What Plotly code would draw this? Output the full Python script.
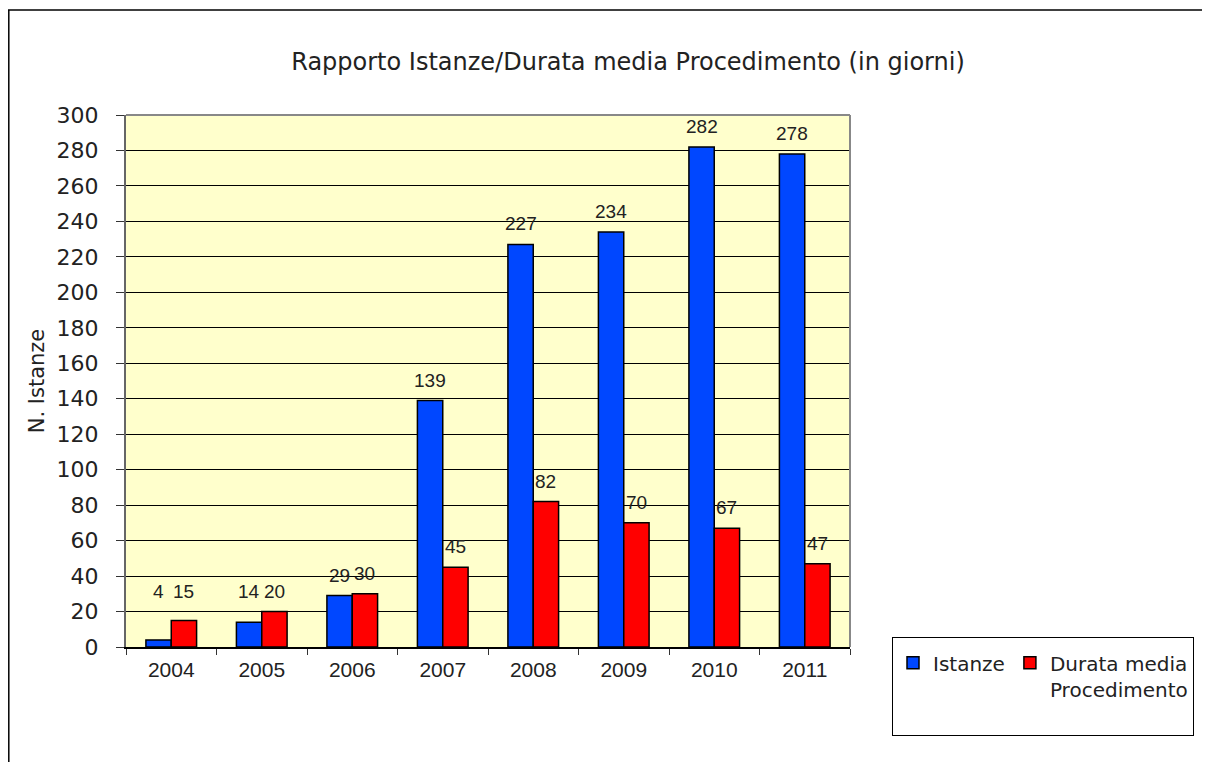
import plotly.graph_objects as go

# data
anni = ["2004", "2005", "2006", "2007", "2008", "2009", "2010", "2011"]
istanze = [4, 14, 29, 139, 227, 234, 282, 278]
durata_media = [15, 20, 30, 45, 82, 70, 67, 47]

TITLE_FONT = "DejaVu Sans"
NUM_FONT = "Liberation Sans, Arial"

# the page body adds an 8px margin, so work in figure pixels
OFF = 8
W, H = 1210 - OFF, 762 - OFF
L, R, T, B = 126 - OFF, 850 - OFF, 115 - OFF, 647 - OFF

fig = go.Figure()

fig.add_trace(go.Bar(
    x=anni, y=istanze, name="Istanze",
    marker=dict(color="#0047FF", line=dict(color="black", width=1.5)),
))
fig.add_trace(go.Bar(
    x=anni, y=durata_media, name="Durata media<br>Procedimento<br> ",
    marker=dict(color="#FF0000", line=dict(color="black", width=1.5)),
))

# value labels above bars (small values pushed up a bit like Excel does)
for offset, values in ((-0.14, istanze), (0.14, durata_media)):
    for i, v in enumerate(values):
        fig.add_annotation(
            x=i + offset, y=max(v, 20), text=str(v),
            showarrow=False, yanchor="bottom", yshift=8,
            font=dict(family=NUM_FONT, size=19, color="#222"),
        )

# outer frame of the chart object (only top and left edges visible)
pw, ph = R - L, B - T
fig.add_shape(type="line", xref="paper", yref="paper",
              x0=(0 - L) / pw, x1=(W + 5 - L) / pw,
              y0=(B - 2) / ph, y1=(B - 2) / ph,
              line=dict(color="black", width=1.5))
fig.add_shape(type="line", xref="paper", yref="paper",
              x0=(0.8 - L) / pw, x1=(0.8 - L) / pw,
              y0=(B - 2) / ph, y1=(B - H - 5) / ph,
              line=dict(color="black", width=1.5))

fig.update_layout(
    width=W, height=H,
    margin=dict(l=L, r=W - R, t=T, b=H - B, pad=0),
    paper_bgcolor="white",
    plot_bgcolor="#FFFFCC",
    barmode="group",
    bargap=0.44,
    bargroupgap=0,
    showlegend=True,
    title=dict(
        text="Rapporto Istanze/Durata media Procedimento (in giorni)",
        x=(628 - OFF) / W, xanchor="center",
        y=1 - (62 - OFF) / H, yanchor="middle",
        font=dict(family=TITLE_FONT, size=24, color="#222"),
    ),
    legend=dict(
        orientation="h",
        x=(892 - OFF - L) / pw, xanchor="left",
        y=(B - (637 - OFF)) / ph, yanchor="top",
        bordercolor="black", borderwidth=1,
        bgcolor="white",
        font=dict(family=TITLE_FONT, size=20, color="#222"),
        title=dict(text=" ", side="top", font=dict(size=4)),
        itemwidth=30,
        valign="top",
        traceorder="normal",
    ),
    xaxis=dict(
        type="category",
        tickson="boundaries",
        ticks="outside", ticklen=6, tickcolor="#333",
        showline=True, linecolor="black", linewidth=1.5,
        showgrid=False,
        tickfont=dict(family=NUM_FONT, size=21, color="#222"),
        ticklabelstandoff=3,
    ),
    yaxis=dict(
        range=[0, 300],
        dtick=20,
        ticks="outside", ticklen=8, tickcolor="#333",
        showline=True, linecolor="#666", linewidth=2,
        showgrid=True, gridcolor="black", gridwidth=1,
        zeroline=False,
        tickfont=dict(family=TITLE_FONT, size=22, color="#222"),
        ticklabelstandoff=13,
        title=dict(text="N. Istanze", standoff=6,
                   font=dict(family=TITLE_FONT, size=21, color="#222")),
    ),
)

# gray border on top and right of the plot area
fig.add_shape(type="line", xref="paper", yref="paper", x0=0, x1=1, y0=1, y1=1,
              line=dict(color="#888", width=2))
fig.add_shape(type="line", xref="paper", yref="paper", x0=1, x1=1, y0=0, y1=1,
              line=dict(color="#888", width=2))

fig.write_html("out.html")
